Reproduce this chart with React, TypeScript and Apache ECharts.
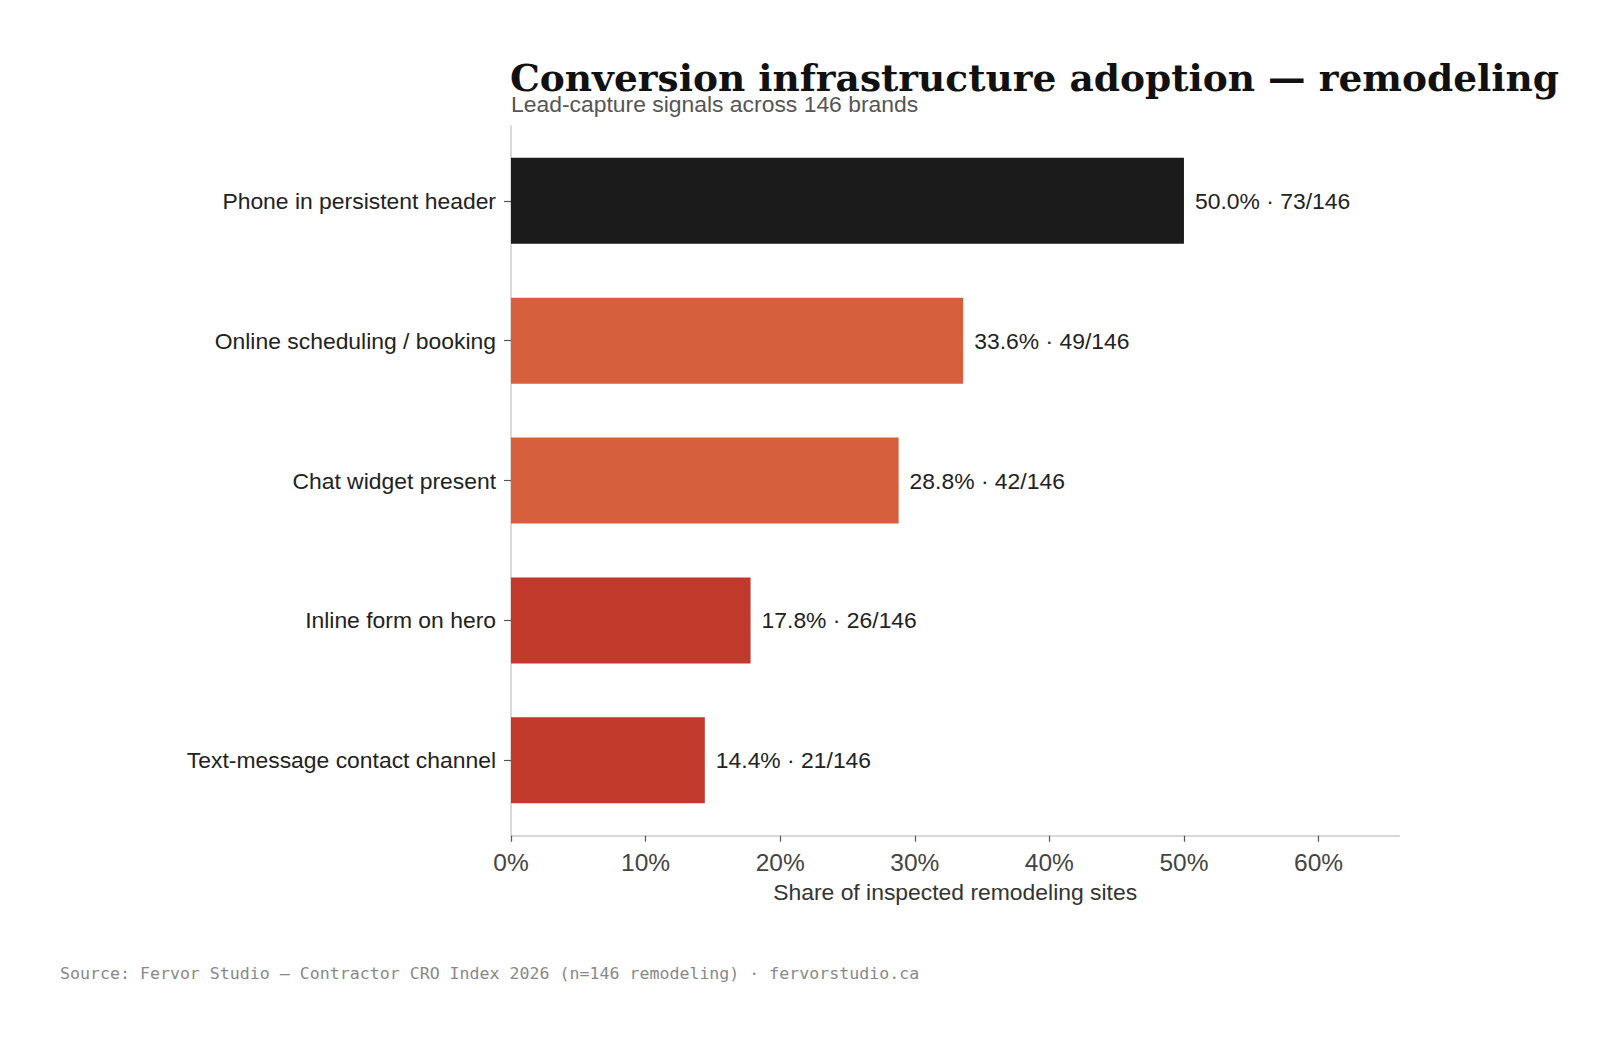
import * as React from "react";
import * as echarts from "echarts";

const categories = [
  "Phone in persistent header",
  "Online scheduling / booking",
  "Chat widget present",
  "Inline form on hero",
  "Text-message contact channel",
];
const shares = [50.0, 33.6, 28.8, 17.8, 14.4];
const counts = [73, 49, 42, 26, 21];
const total = 146;
const xTicks = [0, 10, 20, 30, 40, 50, 60];
const barColors = ["#1b1b1b", "#d6603e", "#d6603e", "#c0392b", "#c0392b"];

const SANS = "'Liberation Sans', Arial, Helvetica, sans-serif";
const W = 1619;
const H = 1042;

export default function App() {
  const ref = React.useRef<HTMLDivElement | null>(null);

  React.useEffect(() => {
    document.body.style.margin = "0";
    if (!ref.current) return;
    const chart = echarts.init(ref.current, undefined, { renderer: "svg" });

    // grid 0 carries the visible frame (axis lines + x ticks), grid 1 the bars
    const left = 511;
    const right = W - 1399.3;
    chart.setOption({
      animation: false,
      backgroundColor: "#ffffff",
      grid: [
        { left, right, top: 126, bottom: H - 835.7, containLabel: false },
        { left, right, top: 130.9, bottom: H - 830.2, containLabel: false },
      ],
      xAxis: [
        {
          gridIndex: 0,
          type: "value",
          min: 0,
          max: 66,
          interval: 10,
          axisLine: { show: true, lineStyle: { color: "#cccccc", width: 1.5 } },
          axisTick: {
            show: true,
            customValues: xTicks,
            length: 6,
            lineStyle: { color: "#555555", width: 1.2 },
          },
          axisLabel: {
            customValues: xTicks,
            formatter: "{value}%",
            color: "#444444",
            fontFamily: SANS,
            fontSize: 24.5,
            margin: 14,
          },
          splitLine: { show: false },
          name: "Share of inspected remodeling sites",
          nameLocation: "middle",
          nameGap: 45,
          nameTextStyle: { color: "#333333", fontFamily: SANS, fontSize: 22.9 },
        },
        { gridIndex: 1, type: "value", min: 0, max: 66, show: false },
      ],
      yAxis: [
        {
          gridIndex: 0,
          type: "value",
          min: 0,
          max: 1,
          axisLine: { show: true, lineStyle: { color: "#cccccc", width: 1.5 } },
          axisTick: { show: false },
          axisLabel: { show: false },
          splitLine: { show: false },
        },
        {
          gridIndex: 1,
          type: "category",
          inverse: true,
          data: categories,
          axisLine: { show: false },
          axisTick: { show: true, alignWithLabel: true, length: 7, lineStyle: { color: "#555555", width: 1.2 } },
          axisLabel: { color: "#222222", fontFamily: SANS, fontSize: 22.9, margin: 15 },
          splitLine: { show: false },
        },
      ],
      series: [
        {
          type: "bar",
          xAxisIndex: 1,
          yAxisIndex: 1,
          barWidth: 86,
          data: shares.map((v, i) => ({ value: v, itemStyle: { color: barColors[i] } })),
          label: {
            show: true,
            position: "right",
            distance: 11,
            color: "#222222",
            fontFamily: SANS,
            fontSize: 22.9,
            formatter: (p: { value: number; dataIndex: number }) =>
              `${p.value.toFixed(1)}% · ${counts[p.dataIndex]}/${total}`,
          },
        },
      ],
      graphic: [
        {
          type: "text",
          x: 510,
          y: 77.5,
          style: {
            text: "Conversion infrastructure adoption — remodeling",
            font: "bold 37.5px 'DejaVu Serif', serif",
            fill: "#111111",
            verticalAlign: "middle",
          },
        },
        {
          type: "text",
          x: 511,
          y: 104,
          style: {
            text: "Lead-capture signals across 146 brands",
            font: `22.9px ${SANS}`,
            fill: "#555555",
            verticalAlign: "middle",
          },
        },
        {
          type: "text",
          x: 60,
          y: 973,
          style: {
            text: "Source: Fervor Studio — Contractor CRO Index 2026 (n=146 remodeling) · fervorstudio.ca",
            font: "16.6px 'DejaVu Sans Mono', monospace",
            fill: "#888888",
            verticalAlign: "middle",
          },
        },
      ],
    });

    return () => {
      chart.dispose();
    };
  }, []);

  return <div ref={ref} style={{ width: W, height: H }} />;
}
